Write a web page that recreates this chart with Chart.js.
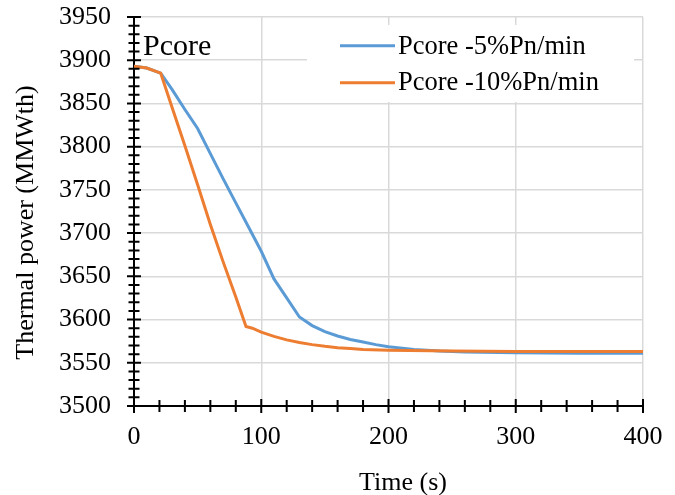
<!DOCTYPE html>
<html>
<head>
<meta charset="utf-8">
<script src="https://cdn.jsdelivr.net/npm/chart.js@4.4.0/dist/chart.umd.min.js"></script>
<style>
html,body{margin:0;padding:0;background:#ffffff;}
#wrap{width:675px;height:495px;position:relative;}
canvas{display:block;}
</style>
</head>
<body>
<div id="wrap"><canvas id="c" width="675" height="495"></canvas></div>
<script>
// ---- Data ----
const seriesLabels = ['Pcore -5%Pn/min', 'Pcore -10%Pn/min'];
const timeBlue  = [0, 10, 21, 30, 40, 50, 60, 70, 80, 90, 100, 110, 120, 130, 140, 150, 160, 170, 180, 190, 200, 220, 240, 260, 300, 350, 400];
const powerBlue = [3893, 3891, 3885, 3866, 3843, 3821, 3792, 3763, 3735, 3707, 3679, 3647, 3625, 3603, 3593, 3586, 3581, 3577, 3574, 3571, 3568.5, 3565.5, 3563.5, 3562.5, 3561.5, 3561, 3561];
const timeOrange  = [0, 10, 21, 30, 40, 50, 60, 70, 80, 88, 93, 100, 110, 120, 130, 140, 150, 160, 170, 180, 200, 250, 300, 400];
const powerOrange = [3893, 3891, 3885, 3845, 3801, 3756, 3710, 3667, 3626, 3592, 3590, 3585.5, 3580.5, 3576.5, 3573.5, 3571, 3569, 3567.5, 3566.5, 3565.5, 3564.5, 3563.5, 3563, 3563];
const xTickValues = [0, 100, 200, 300, 400];
const yTickValues = [3500, 3550, 3600, 3650, 3700, 3750, 3800, 3850, 3900, 3950];
const xTitle = 'Time (s)';
const yTitle = 'Thermal power (MMWth)';
const panelLabel = 'Pcore';

const FONT = "'Liberation Serif','Times New Roman',serif";
const colors = ['#5b9bd5', '#ed7d31'];

function pts(xs, ys){ return xs.map((x,i)=>({x:x, y:ys[i]})); }

const decor = {
  id: 'decor',
  beforeDatasetsDraw(chart){
    const ctx = chart.ctx;
    ctx.save();
    ctx.fillStyle = '#ffffff';
    ctx.fillRect(307, 25, 327, 77);
    ctx.restore();
  },
  afterDraw(chart){
    const ctx = chart.ctx;
    const ca = chart.chartArea;
    const xs = chart.scales.x, ys = chart.scales.y;
    ctx.save();
    ctx.strokeStyle = '#000000';
    ctx.lineWidth = 2;
    ctx.beginPath();
    for (let v = ys.min; v <= ys.max + 0.001; v += 10) {
      const p = ys.getPixelForValue(v);
      const L = (Math.round(v) % 50 === 0) ? 7 : 5.5;
      ctx.moveTo(ca.left - L, p); ctx.lineTo(ca.left + L, p);
    }
    for (let v = xs.min; v <= xs.max + 0.001; v += 20) {
      const p = xs.getPixelForValue(v);
      const L = (Math.round(v) % 100 === 0) ? 7 : 6;
      ctx.moveTo(p, ca.bottom - L); ctx.lineTo(p, ca.bottom + L);
    }
    ctx.stroke();

    // Legend
    ctx.font = '26.5px ' + FONT;
    ctx.fillStyle = '#000000';
    ctx.textAlign = 'left';
    ctx.textBaseline = 'alphabetic';
    const rowsLine = [45.7, 82.7];
    const rowsText = [53.5, 90];
    [0, 1].forEach(i => {
      const ds = chart.data.datasets[i];
      ctx.strokeStyle = ds.borderColor;
      ctx.lineWidth = 3;
      ctx.beginPath();
      ctx.moveTo(340, rowsLine[i]); ctx.lineTo(395, rowsLine[i]);
      ctx.stroke();
      ctx.fillText(ds.label, 398, rowsText[i]);
    });

    // Panel label
    ctx.font = '30px ' + FONT;
    ctx.fillText(panelLabel, 143, 55);

    // Axis titles
    ctx.font = '26px ' + FONT;
    ctx.textAlign = 'center';
    ctx.fillText(xTitle, 403, 490);
    ctx.save();
    ctx.translate(33, 222.5);
    ctx.rotate(-Math.PI/2);
    ctx.fillText(yTitle, 0, 0);
    ctx.restore();
    ctx.restore();
  }
};

new Chart(document.getElementById('c'), {
  type: 'line',
  data: {
    datasets: [
      { label: seriesLabels[0], data: pts(timeBlue, powerBlue), borderColor: colors[0], backgroundColor: colors[0], borderWidth: 3, pointRadius: 0, tension: 0, fill: false, order: 2 },
      { label: seriesLabels[1], data: pts(timeOrange, powerOrange), borderColor: colors[1], backgroundColor: colors[1], borderWidth: 3, pointRadius: 0, tension: 0, fill: false, order: 1 }
    ]
  },
  options: {
    responsive: false,
    animation: false,
    layout: { padding: { left: 0, top: 17, right: 32, bottom: 0 } },
    plugins: { legend: { display: false }, tooltip: { enabled: false } },
    scales: {
      x: {
        type: 'linear', min: 0, max: 400,
        afterBuildTicks(s){ s.ticks = xTickValues.map(v=>({value:v})); },
        afterFit(s){ s.height = 89; s.paddingLeft = 0; s.paddingRight = 0; },
        grid: { color: '#d9d9d9', lineWidth: 1.5, drawTicks: false },
        border: { display: true, color: '#000000', width: 2 },
        ticks: { font: { family: FONT, size: 26, lineHeight: 1.2 }, color: '#000000', padding: 16, maxRotation: 0, callback: v => String(v) }
      },
      y: {
        type: 'linear', min: 3500, max: 3950,
        afterBuildTicks(s){ s.ticks = yTickValues.map(v=>({value:v})); },
        afterFit(s){ s.width = 134; s.paddingTop = 0; s.paddingBottom = 0; },
        grid: { color: '#d9d9d9', lineWidth: 1.5, drawTicks: false },
        border: { display: true, color: '#000000', width: 2 },
        ticks: { font: { family: FONT, size: 26, lineHeight: 1.2 }, color: '#000000', padding: 23, callback: v => String(v) }
      }
    }
  },
  plugins: [decor]
});
</script>
</body>
</html>
